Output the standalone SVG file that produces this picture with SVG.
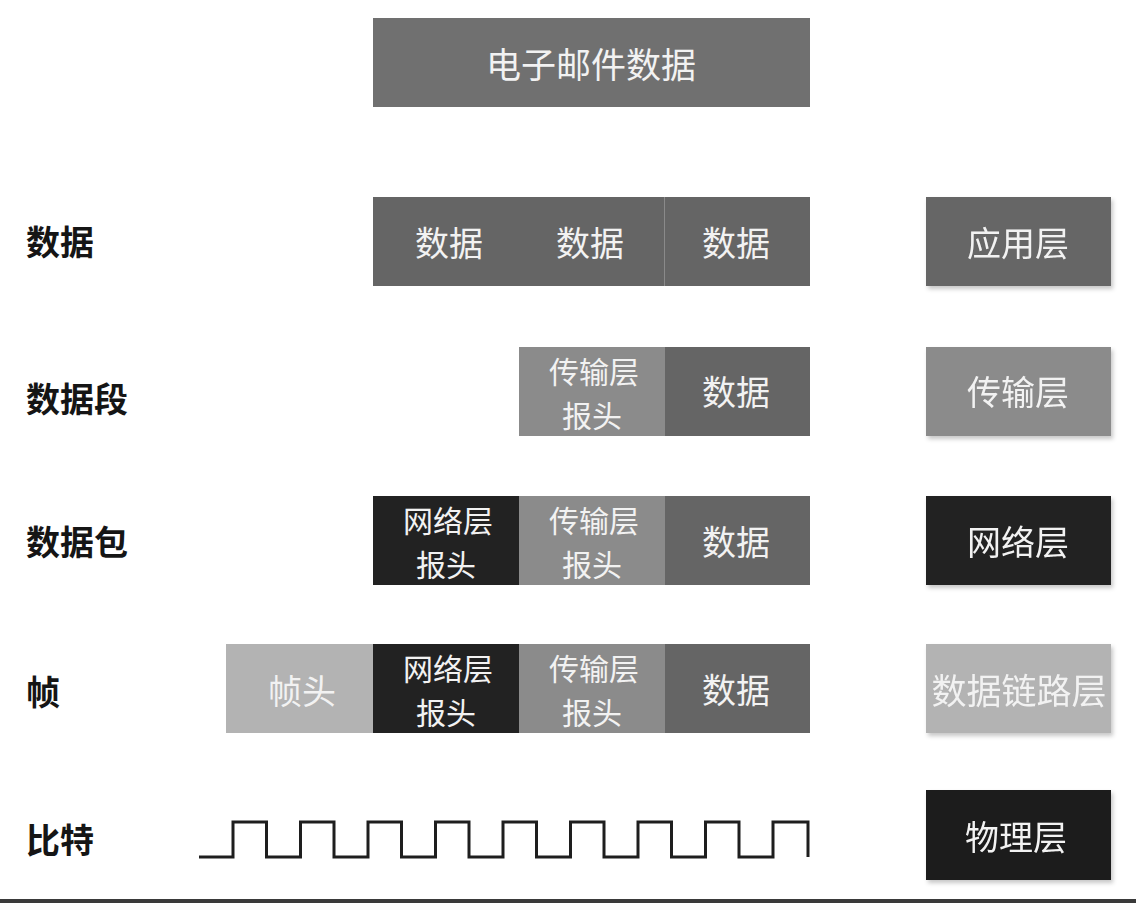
<svg xmlns="http://www.w3.org/2000/svg" width="1136" height="903" viewBox="0 0 1136 903">
<defs>
<filter id="sh" x="-10%" y="-10%" width="130%" height="130%">
<feDropShadow dx="2" dy="3" stdDeviation="2" flood-color="#000" flood-opacity="0.22"/>
</filter>
<style>
.t{font-family:"Noto Sans CJK SC","Noto Sans",sans-serif;font-size:34px;fill:#f2f2f2;text-anchor:middle;dominant-baseline:central}
.h{font-family:"Noto Sans CJK SC","Noto Sans",sans-serif;font-size:30px;fill:#f2f2f2;text-anchor:middle;dominant-baseline:central}
.lbl{font-family:"Noto Sans CJK SC","Noto Sans",sans-serif;font-size:34px;font-weight:bold;fill:#151515;dominant-baseline:central}
.data{fill:#656565}
.trans{fill:#8b8b8b}
.net{fill:#222222}
.frame{fill:#b3b3b3}
</style>
</defs>
<rect width="1136" height="903" fill="#ffffff"/>

<g id="email">
<rect x="373" y="18" width="437" height="89" fill="#707070"/>
<text class="t" x="591" y="62" style="font-size:35px">电子邮件数据</text>
</g>

<g id="labels">
<text class="lbl" x="26" y="240">数据</text>
<text class="lbl" x="26" y="397">数据段</text>
<text class="lbl" x="26" y="540">数据包</text>
<text class="lbl" x="26" y="690">帧</text>
<text class="lbl" x="26" y="838">比特</text>
</g>

<g id="row-data">
<rect class="data" x="373" y="197" width="292" height="89"/>
<rect class="data" x="665" y="197" width="145" height="89"/>
<line x1="664.5" y1="197" x2="664.5" y2="286" stroke="#8a8a8a" stroke-width="1"/>
<text class="t" x="449" y="241">数据</text>
<text class="t" x="590" y="241">数据</text>
<text class="t" x="736" y="241">数据</text>
</g>

<g id="row-segment">
<rect class="trans" x="519" y="347" width="146" height="89"/>
<rect class="data" x="665" y="347" width="145" height="89"/>
<text class="h" x="594" y="369.5">传输层</text>
<text class="h" x="592" y="413.5">报头</text>
<text class="t" x="736" y="390">数据</text>
</g>

<g id="row-packet">
<rect class="net" x="373" y="496" width="146" height="89"/>
<rect class="trans" x="519" y="496" width="146" height="89"/>
<rect class="data" x="665" y="496" width="145" height="89"/>
<text class="h" x="448" y="518.5">网络层</text>
<text class="h" x="446" y="562.5">报头</text>
<text class="h" x="594" y="518.5">传输层</text>
<text class="h" x="592" y="562.5">报头</text>
<text class="t" x="736" y="540">数据</text>
</g>

<g id="row-frame">
<rect class="frame" x="226" y="644" width="147" height="89"/>
<rect class="net" x="373" y="644" width="146" height="89"/>
<rect class="trans" x="519" y="644" width="146" height="89"/>
<rect class="data" x="665" y="644" width="145" height="89"/>
<text class="t" x="302" y="689">帧头</text>
<text class="h" x="448" y="666.5">网络层</text>
<text class="h" x="446" y="710.5">报头</text>
<text class="h" x="594" y="666.5">传输层</text>
<text class="h" x="592" y="710.5">报头</text>
<text class="t" x="736" y="688">数据</text>
</g>

<g id="signal">
<path d="M199,857 H233 V822 H266.5 V857 H300.5 V822 H334 V857 H368 V822 H401.5 V857 H435.5 V822 H469 V857 H503 V822 H536.5 V857 H570.5 V822 H604 V857 H638 V822 H671.5 V857 H705.5 V822 H739 V857 H773 V822 H808 V857" fill="none" stroke="#1e1e1e" stroke-width="3" stroke-linejoin="miter"/>
</g>

<g id="layer-app" filter="url(#sh)">
<rect x="926" y="197" width="185" height="89" fill="#666666"/>
<text class="t" x="1018" y="241">应用层</text>
</g>
<g id="layer-transport" filter="url(#sh)">
<rect x="926" y="347" width="185" height="89" fill="#8b8b8b"/>
<text class="t" x="1018" y="390">传输层</text>
</g>
<g id="layer-network" filter="url(#sh)">
<rect x="926" y="496" width="185" height="89" fill="#222222"/>
<text class="t" x="1018" y="540">网络层</text>
</g>
<g id="layer-datalink" filter="url(#sh)">
<rect x="926" y="644" width="185" height="89" fill="#b3b3b3"/>
<text class="t" x="1019" y="688" style="font-size:35px">数据链路层</text>
</g>
<g id="layer-physical" filter="url(#sh)">
<rect x="926" y="790" width="185" height="90" fill="#1a1a1a"/>
<text class="t" x="1016" y="835">物理层</text>
</g>

<rect x="0" y="899" width="1136" height="4" fill="#3a3a3a"/>
</svg>
